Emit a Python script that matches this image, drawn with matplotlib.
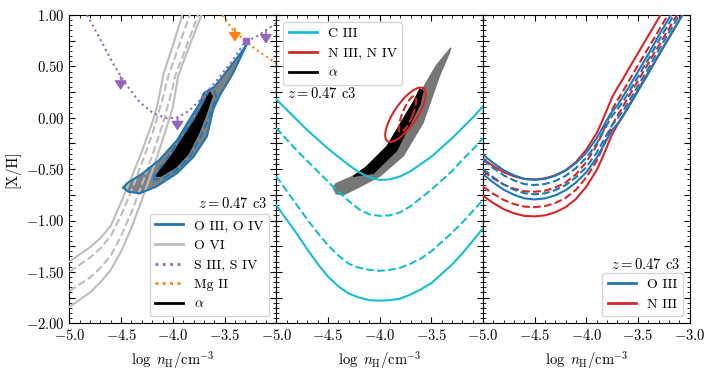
import matplotlib

matplotlib.use("Agg")
import matplotlib.pyplot as plt
from matplotlib.lines import Line2D
from matplotlib.patches import Ellipse
from matplotlib.ticker import FuncFormatter, MultipleLocator

plt.rcParams.update({
    "font.family": "serif",
    "font.serif": ["cmr10"],
    "mathtext.fontset": "cm",
    "axes.formatter.use_mathtext": True,
    "font.size": 10.5,
    "legend.fontsize": 10,
    "xtick.direction": "in",
    "ytick.direction": "in",
    "xtick.top": True,
    "ytick.right": True,
})

BLUE, RED, CYAN = "#1f77b4", "#d62728", "#17becf"
PURPLE, ORANGE, SILVER = "#9467bd", "#ff7f0e", "#bdbdbd"

# ---------------- panel 1: O III/O IV, O VI, S III/S IV, Mg II ----------------
p1_gray_x = [-4.48, -4.44, -4.29, -4.13, -3.96, -3.84, -3.74, -3.70, -3.60, -3.52,
             -3.42, -3.35, -3.30, -3.29, -3.33, -3.42, -3.545, -3.61, -3.67, -3.80,
             -3.96, -4.16, -4.32, -4.43, -4.48]
p1_gray_y = [-0.68, -0.635, -0.54, -0.41, -0.22, -0.02, 0.14, 0.24, 0.30, 0.40,
             0.53, 0.62, 0.69, 0.71, 0.62, 0.43, 0.22, 0.08, -0.18, -0.38,
             -0.54, -0.67, -0.735, -0.72, -0.68]
p1_black_x = [-4.16, -4.13, -4.02, -3.89, -3.77, -3.67, -3.64, -3.62, -3.68, -3.75,
              -3.85, -3.97, -4.12, -4.16]
p1_black_y = [-0.57, -0.52, -0.38, -0.18, 0.01, 0.20, 0.25, 0.21, 0.03, -0.15,
              -0.35, -0.48, -0.57, -0.57]
p1_dash_x = [-4.19, -4.16, -4.05, -3.92, -3.79, -3.69, -3.65, -3.60, -3.58, -3.64,
             -3.72, -3.82, -3.95, -4.11, -4.19]
p1_dash_y = [-0.60, -0.53, -0.39, -0.19, 0.00, 0.19, 0.27, 0.26, 0.20, 0.03,
             -0.16, -0.36, -0.50, -0.60, -0.60]

ovi_hi_x = [-5.0, -4.9, -4.8, -4.7, -4.6, -4.5, -4.4, -4.3, -4.2, -4.15, -4.09, -4.0, -3.9]
ovi_hi_y = [-1.40, -1.33, -1.26, -1.17, -1.05, -0.82, -0.58, -0.33, -0.05, 0.12, 0.43, 0.70, 1.03]
ovi_dhi_x = [-5.0, -4.9, -4.8, -4.7, -4.6, -4.5, -4.4, -4.3, -4.2, -4.1, -4.04, -4.0, -3.9, -3.8]
ovi_dhi_y = [-1.50, -1.43, -1.36, -1.27, -1.15, -0.95, -0.71, -0.44, -0.16, 0.18, 0.42, 0.53, 0.82, 1.10]
ovi_dlo_x = [-5.0, -4.9, -4.8, -4.7, -4.6, -4.5, -4.4, -4.3, -4.2, -4.1, -4.0, -3.98, -3.9, -3.8, -3.7]
ovi_dlo_y = [-1.69, -1.62, -1.555, -1.46, -1.34, -1.15, -0.92, -0.65, -0.37, -0.07, 0.30, 0.40, 0.61, 0.88, 1.15]
ovi_lo_x = [-5.0, -4.9, -4.8, -4.7, -4.6, -4.5, -4.4, -4.3, -4.2, -4.1, -4.0, -3.95, -3.9, -3.8, -3.7]
ovi_lo_y = [-1.84, -1.77, -1.70, -1.60, -1.48, -1.30, -1.07, -0.80, -0.52, -0.22, 0.10, 0.40, 0.54, 0.80, 1.06]

siii_x = [-4.83, -4.70, -4.58, -4.45, -4.32, -4.19, -4.06, -3.96, -3.84, -3.71,
          -3.58, -3.42, -3.30, -3.19, -3.0]
siii_y = [1.0, 0.76, 0.53, 0.32, 0.15, 0.045, -0.005, 0.0, 0.07, 0.20,
          0.36, 0.56, 0.74, 0.79, 0.92]
siii_lim_x = [-4.505, -3.955, -3.10]
siii_lim_y = [0.40, 0.005, 0.85]
siii_pt_x = [-3.295]
siii_pt_y = [0.75]

mgii_x = [-3.52, -3.42, -3.30, -3.19, -3.0]
mgii_y = [1.0, 0.855, 0.75, 0.66, 0.53]
mgii_lim_x = [-3.40]
mgii_lim_y = [0.87]

# ---------------- panel 2: C III, N III/N IV ----------------
p2_gray_x = [-4.45, -4.42, -4.19, -3.93, -3.70, -3.45, -3.36, -3.31, -3.33, -3.42,
             -3.58, -3.77, -4.00, -4.19, -4.35, -4.42, -4.45]
p2_gray_y = [-0.68, -0.64, -0.54, -0.32, 0.08, 0.51, 0.62, 0.68, 0.62, 0.41,
             -0.05, -0.37, -0.57, -0.67, -0.75, -0.74, -0.68]
p2_black_x = [-4.255, -4.13, -3.93, -3.675, -3.61, -3.58, -3.61, -3.836, -4.06, -4.255]
p2_black_y = [-0.57, -0.48, -0.28, 0.15, 0.28, 0.26, 0.13, -0.32, -0.54, -0.57]

grid2 = [-5.0, -4.9, -4.8, -4.7, -4.6, -4.5, -4.4, -4.3, -4.2, -4.1, -4.0,
         -3.9, -3.8, -3.7, -3.6, -3.5, -3.4, -3.3, -3.2, -3.1, -3.0]
ciii_hi = [0.18, 0.08, -0.02, -0.12, -0.21, -0.30, -0.38, -0.46, -0.53, -0.58, -0.605,
           -0.60, -0.57, -0.52, -0.45, -0.38, -0.29, -0.20, -0.10, 0.00, 0.11]
ciii_dhi = [-0.10, -0.21, -0.32, -0.42, -0.52, -0.62, -0.72, -0.81, -0.89, -0.94, -0.955,
            -0.95, -0.92, -0.86, -0.78, -0.70, -0.61, -0.52, -0.41, -0.31, -0.20]
ciii_dlo = [-0.57, -0.71, -0.85, -0.99, -1.12, -1.24, -1.34, -1.42, -1.46, -1.48, -1.49,
            -1.48, -1.46, -1.42, -1.37, -1.30, -1.21, -1.12, -1.02, -0.91, -0.80]
ciii_lo = [-0.85, -0.99, -1.13, -1.28, -1.42, -1.545, -1.64, -1.71, -1.75, -1.775, -1.78,
           -1.775, -1.76, -1.72, -1.67, -1.61, -1.52, -1.43, -1.32, -1.20, -1.075]

# N III, N IV contours (centre x, centre y, major, minor, angle)
niv_solid = [-3.75, 0.03, 0.62, 0.22, 56]
niv_dash = [-3.73, 0.035, 0.38, 0.10, 68]

# ---------------- panel 3: O III, N III ----------------
grid3 = [-5.0, -4.9, -4.8, -4.7, -4.6, -4.5, -4.4, -4.3, -4.2, -4.1, -4.0, -3.9,
         -3.85, -3.8, -3.75, -3.7, -3.65, -3.6, -3.5, -3.4, -3.3, -3.2, -3.1, -3.0]
oiii_hi = [-0.36, -0.44, -0.51, -0.56, -0.595, -0.605, -0.595, -0.565, -0.515, -0.44, -0.34, -0.20,
           -0.11, -0.02, 0.06, 0.12, 0.20, 0.28, 0.45, 0.62, 0.80, 0.97, 1.14, 1.31]
oiii_dhi = [-0.41, -0.49, -0.56, -0.61, -0.645, -0.655, -0.645, -0.615, -0.565, -0.49, -0.39, -0.25,
            -0.16, -0.07, 0.02, 0.08, 0.15, 0.23, 0.40, 0.57, 0.75, 0.92, 1.09, 1.26]
oiii_dlo = [-0.50, -0.58, -0.65, -0.70, -0.735, -0.745, -0.735, -0.705, -0.655, -0.58, -0.48, -0.34,
            -0.25, -0.16, -0.07, -0.01, 0.06, 0.14, 0.31, 0.48, 0.66, 0.83, 1.00, 1.17]
oiii_lo = [-0.55, -0.63, -0.70, -0.75, -0.785, -0.795, -0.785, -0.755, -0.705, -0.63, -0.53, -0.39,
           -0.30, -0.21, -0.12, -0.06, 0.01, 0.09, 0.26, 0.43, 0.61, 0.78, 0.95, 1.12]
niii_hi = [-0.40, -0.47, -0.53, -0.57, -0.595, -0.60, -0.59, -0.56, -0.51, -0.43, -0.31, -0.15,
           -0.04, 0.08, 0.20, 0.29, 0.37, 0.46, 0.63, 0.80, 0.97, 1.14, 1.31, 1.48]
niii_dhi = [-0.52, -0.59, -0.65, -0.69, -0.715, -0.72, -0.71, -0.68, -0.63, -0.55, -0.43, -0.27,
            -0.16, -0.04, 0.08, 0.17, 0.25, 0.34, 0.51, 0.68, 0.85, 1.02, 1.19, 1.36]
niii_dlo = [-0.67, -0.74, -0.80, -0.84, -0.865, -0.87, -0.86, -0.83, -0.78, -0.70, -0.58, -0.42,
            -0.31, -0.19, -0.07, 0.02, 0.10, 0.19, 0.36, 0.53, 0.70, 0.87, 1.04, 1.21]
niii_lo = [-0.76, -0.83, -0.89, -0.93, -0.955, -0.96, -0.95, -0.92, -0.87, -0.79, -0.67, -0.51,
           -0.40, -0.28, -0.16, -0.07, 0.01, 0.10, 0.27, 0.44, 0.61, 0.78, 0.95, 1.12]

ZLABEL = r"$z = 0.47$ c3"
XLABEL = r"$\log\ n_{\rm H}/{\rm cm}^{-3}$"
LW = 1.5


def upper_limits(ax, xs, ys, color):
    for x, y in zip(xs, ys):
        ax.annotate("", xy=(x, y - 0.13), xytext=(x, y),
                    arrowprops=dict(arrowstyle="-|>,head_length=0.45,head_width=0.3",
                                    color=color, lw=1.2, mutation_scale=12,
                                    shrinkA=0, shrinkB=0))


fig, axes = plt.subplots(1, 3, figsize=(7.14, 3.75), dpi=100, sharey=True)
fig.subplots_adjust(left=0.0973, right=0.966, top=0.96, bottom=0.138, wspace=0)

# --- panel 1
ax = axes[0]
ax.fill(p1_gray_x, p1_gray_y, color="gray", zorder=1)
ax.fill(p1_black_x, p1_black_y, color="black", zorder=2)
for (xx, yy), ls in [((ovi_hi_x, ovi_hi_y), "-"), ((ovi_dhi_x, ovi_dhi_y), "--"),
                     ((ovi_dlo_x, ovi_dlo_y), "--"), ((ovi_lo_x, ovi_lo_y), "-")]:
    ax.plot(xx, yy, ls, color=SILVER, lw=LW, zorder=3)
ax.plot(p1_gray_x, p1_gray_y, "-", color=BLUE, lw=LW, zorder=4)
ax.plot(p1_dash_x, p1_dash_y, "--", color=BLUE, lw=LW, zorder=4)
ax.plot(siii_x, siii_y, ":", color=PURPLE, lw=LW, zorder=5)
ax.plot(mgii_x, mgii_y, ":", color=ORANGE, lw=LW, zorder=5)
upper_limits(ax, siii_lim_x, siii_lim_y, PURPLE)
upper_limits(ax, mgii_lim_x, mgii_lim_y, ORANGE)
ax.plot(siii_pt_x, siii_pt_y, "s", color=PURPLE, ms=4, zorder=6)
h1 = [Line2D([], [], color=BLUE, lw=2),
      Line2D([], [], color=SILVER, lw=2),
      Line2D([], [], color=PURPLE, lw=2, ls=":"),
      Line2D([], [], color=ORANGE, lw=2, ls=":"),
      Line2D([], [], color="black", lw=2)]
ax.legend(h1, ["O III, O IV", "O VI", "S III, S IV", "Mg II", r"$\alpha$"],
          loc="lower right")
ax.text(0.955, 0.39, ZLABEL, transform=ax.transAxes, ha="right", va="center")
ax.set_ylabel("[X/H]")

# --- panel 2
ax = axes[1]
ax.fill(p2_gray_x, p2_gray_y, color="#767676", zorder=1)
ax.fill(p2_black_x, p2_black_y, color="black", zorder=2)
ax.plot(grid2, ciii_hi, "-", color=CYAN, lw=LW, zorder=3)
ax.plot(grid2, ciii_dhi, "--", color=CYAN, lw=LW, zorder=3)
ax.plot(grid2, ciii_dlo, "--", color=CYAN, lw=LW, zorder=3)
ax.plot(grid2, ciii_lo, "-", color=CYAN, lw=LW, zorder=3)
for pars, ls in [(niv_solid, "-"), (niv_dash, "--")]:
    ax.add_patch(Ellipse((pars[0], pars[1]), pars[2], pars[3], angle=pars[4],
                         fill=False, ec=RED, lw=LW, ls=ls, zorder=4))
h2 = [Line2D([], [], color=CYAN, lw=2),
      Line2D([], [], color=RED, lw=2),
      Line2D([], [], color="black", lw=2)]
ax.legend(h2, ["C III", "N III, N IV", r"$\alpha$"], loc="upper left")
ax.text(0.05, 0.745, ZLABEL, transform=ax.transAxes, ha="left", va="center")

# --- panel 3 (red drawn first, blue on top)
ax = axes[2]
for yy, ls in [(niii_hi, "-"), (niii_dhi, "--"), (niii_dlo, "--"), (niii_lo, "-")]:
    ax.plot(grid3, yy, ls, color=RED, lw=LW, zorder=3)
for yy, ls in [(oiii_hi, "-"), (oiii_dhi, "--"), (oiii_dlo, "--"), (oiii_lo, "-")]:
    ax.plot(grid3, yy, ls, color=BLUE, lw=LW, zorder=4)
h3 = [Line2D([], [], color=BLUE, lw=2), Line2D([], [], color=RED, lw=2)]
ax.legend(h3, ["O III", "N III"], loc="lower right")
ax.text(0.952, 0.192, ZLABEL, transform=ax.transAxes, ha="right", va="center")


def xfmt(hide_last):
    def f(v, pos):
        if hide_last and abs(v + 3.0) < 1e-6:
            return ""
        return f"${v:.1f}$"
    return FuncFormatter(f)


def yfmt(v, pos):
    if abs(v / 0.5 - round(v / 0.5)) > 1e-6:
        return ""
    return f"${v:.2f}$"


for i, ax in enumerate(axes):
    ax.set_xlim(-5.0, -3.0)
    ax.set_ylim(-2.0, 1.0)
    ax.xaxis.set_major_locator(MultipleLocator(0.5))
    ax.xaxis.set_minor_locator(MultipleLocator(0.1))
    ax.yaxis.set_major_locator(MultipleLocator(0.25))
    ax.yaxis.set_minor_locator(MultipleLocator(0.05))
    ax.xaxis.set_major_formatter(xfmt(i < 2))
    ax.yaxis.set_major_formatter(FuncFormatter(yfmt))
    ax.tick_params(which="major", length=4.5, labelsize=10.5)
    ax.tick_params(which="minor", length=2.5)
    ax.set_xlabel(XLABEL)

fig.savefig("out.png", dpi=100)
